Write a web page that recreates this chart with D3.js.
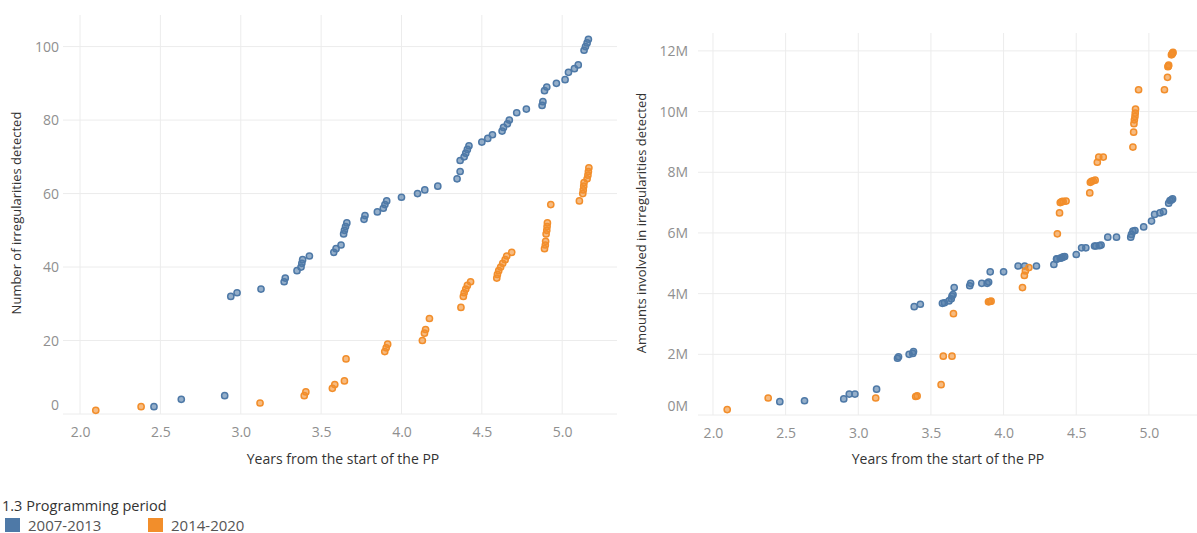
<!DOCTYPE html>
<html>
<head>
<meta charset="utf-8">
<script src="https://cdn.jsdelivr.net/npm/d3@7"></script>
<style>
  html, body { margin: 0; padding: 0; background: #fff; }
  svg { display: block; font-family: "Open Sans", "Lato", sans-serif; }
</style>
</head>
<body>
<svg id="chart" width="1197" height="533"></svg>
<script>
// ---------- data ----------
const seriesNames = ["2007-2013", "2014-2020"];
const seriesColors = ["#4e79a7", "#f28e2b"];
const legendTitle = "1.3 Programming period";
const xTitle = "Years from the start of the PP";
const yTitleCount = "Number of irregularities detected";
const yTitleAmount = "Amounts involved in irregularities detected";
const xTicks = [2.0, 2.5, 3.0, 3.5, 4.0, 4.5, 5.0];
const countTicks = [0, 20, 40, 60, 80, 100];
const amountTicks = [0, 2e6, 4e6, 6e6, 8e6, 10e6, 12e6];

// 2007-2013: years from start, cumulative count, cumulative amount (EUR)
const blueYears = [2.46, 2.63, 2.90, 2.938, 2.977, 3.126, 3.27, 3.277, 3.35, 3.375, 3.38, 3.385, 3.427,
  3.579, 3.593, 3.624, 3.64, 3.645, 3.652, 3.66, 3.767, 3.773, 3.85, 3.887, 3.897, 3.908, 4.0, 4.1,
  4.145, 4.226, 4.346, 4.365, 4.365, 4.39, 4.40, 4.41, 4.42, 4.5, 4.537, 4.566, 4.626, 4.635, 4.659,
  4.671, 4.717, 4.777, 4.875, 4.88, 4.89, 4.904, 4.964, 5.018, 5.039, 5.076, 5.1, 5.136, 5.145, 5.155, 5.163];
const blueCounts = [2, 4, 5, 32, 33, 34, 36, 37, 39, 40, 41, 42, 43,
  44, 45, 46, 49, 50, 51, 52, 53, 54, 55, 56, 57, 58, 59, 60,
  61, 62, 64, 66, 69, 70, 71, 72, 73, 74, 75, 76, 77, 78, 79,
  80, 82, 83, 84, 85, 88, 89, 90, 91, 93, 94, 95, 99, 100, 101, 102];
const blueAmounts = [0.44e6, 0.47e6, 0.53e6, 0.69e6, 0.69e6, 0.85e6, 1.87e6, 1.92e6, 2.0e6, 2.03e6, 2.09e6, 3.57e6, 3.65e6,
  3.68e6, 3.70e6, 3.76e6, 3.83e6, 3.92e6, 3.97e6, 4.2e6, 4.26e6, 4.34e6, 4.34e6, 4.34e6, 4.38e6, 4.72e6, 4.72e6, 4.91e6,
  4.91e6, 4.91e6, 4.96e6, 5.13e6, 5.15e6, 5.17e6, 5.18e6, 5.21e6, 5.22e6, 5.29e6, 5.51e6, 5.51e6, 5.57e6, 5.57e6, 5.58e6,
  5.6e6, 5.86e6, 5.86e6, 5.86e6, 5.95e6, 6.06e6, 6.08e6, 6.2e6, 6.39e6, 6.61e6, 6.66e6, 6.7e6, 6.98e6, 7.07e6, 7.09e6, 7.12e6];

// 2014-2020
const orangeYears = [2.098, 2.38, 3.12, 3.395, 3.405, 3.57, 3.585, 3.645, 3.655, 3.896, 3.905, 3.914,
  4.13, 4.143, 4.15, 4.174, 4.37, 4.385, 4.39, 4.40, 4.41, 4.43, 4.593, 4.597, 4.605, 4.617, 4.63,
  4.645, 4.655, 4.686, 4.89, 4.895, 4.897, 4.90, 4.904, 4.906, 4.908, 4.929, 5.107, 5.128, 5.131,
  5.134, 5.136, 5.155, 5.16, 5.163, 5.166];
const orangeCounts = [1, 2, 3, 5, 6, 7, 8, 9, 15, 17, 18, 19,
  20, 22, 23, 26, 29, 32, 33, 34, 35, 36, 37, 38, 39, 40, 41,
  42, 43, 44, 45, 46, 47, 49, 50, 51, 52, 57, 58, 60, 61,
  62, 63, 64, 65, 66, 67];
const orangeAmounts = [0.18e6, 0.56e6, 0.56e6, 0.61e6, 0.63e6, 1.0e6, 1.94e6, 1.94e6, 3.34e6, 3.73e6, 3.74e6, 3.75e6,
  4.2e6, 4.6e6, 4.75e6, 4.86e6, 5.97e6, 6.66e6, 7.0e6, 7.03e6, 7.04e6, 7.05e6, 7.32e6, 7.67e6, 7.70e6, 7.72e6, 7.74e6,
  8.33e6, 8.5e6, 8.5e6, 8.83e6, 9.32e6, 9.6e6, 9.73e6, 9.84e6, 9.95e6, 10.08e6, 10.72e6, 10.72e6, 11.13e6, 11.48e6,
  11.5e6, 11.53e6, 11.87e6, 11.9e6, 11.93e6, 11.95e6];

// ---------- build ----------
const series = [
  { name: seriesNames[0], color: seriesColors[0], years: blueYears, count: blueCounts, amount: blueAmounts },
  { name: seriesNames[1], color: seriesColors[1], years: orangeYears, count: orangeCounts, amount: orangeAmounts }
];

const svg = d3.select("#chart");

function panel(cfg) {
  const x = d3.scaleLinear().domain(cfg.xDomain).range([cfg.left, cfg.right]);
  const y = d3.scaleLinear().domain(cfg.yDomain).range([cfg.bottom, cfg.top]);
  const g = svg.append("g");

  // gridlines
  g.append("g").selectAll("line.v").data(xTicks).join("line")
    .attr("x1", d => x(d)).attr("x2", d => x(d))
    .attr("y1", cfg.top).attr("y2", cfg.bottom)
    .attr("stroke", "#ececec").attr("stroke-width", 1);
  g.append("g").selectAll("line.h").data(cfg.yTicks).join("line")
    .attr("x1", cfg.left).attr("x2", cfg.right)
    .attr("y1", d => y(d)).attr("y2", d => y(d))
    .attr("stroke", "#ececec").attr("stroke-width", 1);

  // x axis
  const xa = g.append("g").attr("transform", `translate(0,${cfg.bottom})`)
    .call(d3.axisBottom(x).tickValues(xTicks).tickFormat(d3.format(".1f")).tickSize(0).tickPadding(13));
  xa.select(".domain").remove();
  xa.selectAll("text").attr("fill", "#8f8f8f").style("font-size", "14px").style("font-family", "Open Sans, sans-serif");

  // y axis
  const ya = g.append("g").attr("transform", `translate(${cfg.left},0)`)
    .call(d3.axisLeft(y).tickValues(cfg.yTicks).tickFormat(cfg.yFormat).tickSize(0).tickPadding(cfg.yPad));
  ya.select(".domain").remove();
  ya.selectAll("text").attr("fill", "#8f8f8f").style("font-size", "14px").style("font-family", "Open Sans, sans-serif");
  // Tableau nudges the bottom edge label up so it stays inside the pane
  ya.selectAll(".tick").filter(d => d === cfg.yTicks[0]).select("text").attr("dy", "-0.35em");

  // titles
  g.append("text").attr("x", cfg.xTitleX).attr("y", 464).attr("text-anchor", "middle")
    .attr("fill", "#333").style("font-size", "14px").text(xTitle);
  g.append("text").attr("transform", `translate(${cfg.yTitleX},${cfg.yTitleY}) rotate(-90)`)
    .attr("text-anchor", "middle").attr("fill", "#333").style("font-size", "13px").text(cfg.yTitle);

  // marks
  series.forEach(s => {
    const pts = s.years.map((t, i) => ({ t, v: s[cfg.key][i] }));
    g.append("g").selectAll("circle").data(pts).join("circle")
      .attr("cx", d => x(d.t)).attr("cy", d => y(d.v)).attr("r", 3.1)
      .attr("fill", s.color).attr("fill-opacity", 0.6)
      .attr("stroke", s.color).attr("stroke-width", 1.5);
  });
}

panel({
  left: 63, right: 617, top: 15, bottom: 414,
  xDomain: [1.894, 5.341], yDomain: [0, 108.6],
  yTicks: countTicks, yFormat: d3.format("d"), yPad: 4,
  key: "count", xTitleX: 343, yTitle: yTitleCount, yTitleX: 21, yTitleY: 213
});

panel({
  left: 698, right: 1197, top: 33, bottom: 415,
  xDomain: [1.897, 5.331], yDomain: [0, 12.59e6],
  yTicks: amountTicks, yFormat: d => (d / 1e6) + "M", yPad: 10,
  key: "amount", xTitleX: 948, yTitle: yTitleAmount, yTitleX: 646, yTitleY: 223
});

// legend
const lg = svg.append("g");
lg.append("text").attr("x", 2).attr("y", 511).attr("fill", "#333").style("font-size", "14.5px").text(legendTitle);
const items = lg.selectAll("g.item").data(series).join("g")
  .attr("transform", (d, i) => `translate(${i === 0 ? 5 : 148},518)`);
items.append("rect").attr("width", 15).attr("height", 14).attr("fill", d => d.color);
items.append("text").attr("x", 23).attr("y", 12.5).attr("fill", "#555").style("font-size", "15px").text(d => d.name);
</script>
</body>
</html>
